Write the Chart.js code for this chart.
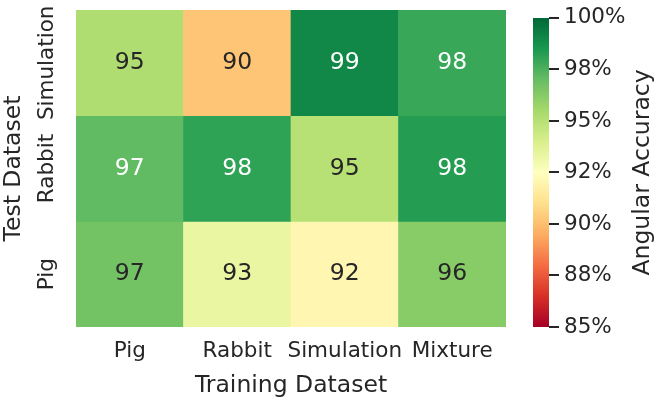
<!DOCTYPE html>
<html>
<head>
<meta charset="utf-8">
<script src="https://cdn.jsdelivr.net/npm/chart.js@4.4.1/dist/chart.umd.min.js"></script>
<style>
  html, body { margin:0; padding:0; background:#fff; }
  #wrap { position:relative; width:661px; height:401px; }
  #wrap canvas { position:absolute; top:0; }
  #heat { left:0; }
  #cbar { left:520px; }
</style>
</head>
<body>
<div id="wrap">
  <canvas id="heat" width="661" height="401"></canvas>
  <canvas id="cbar" width="141" height="401"></canvas>
</div>
<script>
// ---- data ----
const trainSets = ["Pig", "Rabbit", "Simulation", "Mixture"];
const testSets  = ["Simulation", "Rabbit", "Pig"];   // top -> bottom
const accSimulation = [95.2, 90.2, 99.0, 97.9];
const accRabbit     = [97.1, 98.1, 95.0, 98.3];
const accPig        = [96.7, 93.3, 92.1, 96.2];
const cbTicks  = [85, 87.5, 90, 92.5, 95, 97.5, 100];
const cbLabels = ["85%", "88%", "90%", "92%", "95%", "98%", "100%"];
const vMin = 85, vMax = 100;

const rows = [accSimulation, accRabbit, accPig];

const FONT = "'DejaVu Sans', sans-serif";
const TXT = "#262626";
Chart.defaults.font.family = FONT;

// RdYlGn colormap
const RdYlGn = ["#a50026","#d73027","#f46d43","#fdae61","#fee08b","#ffffbf",
                "#d9ef8b","#a6d96a","#66bd63","#1a9850","#006837"];

function hexToRgb(h){ return [1,3,5].map(i => parseInt(h.substr(i,2),16)); }

function cmap(v){
  let t = (v - vMin) / (vMax - vMin);
  t = Math.max(0, Math.min(1, t));
  const s = t * (RdYlGn.length - 1);
  const i = Math.min(Math.floor(s), RdYlGn.length - 2);
  const f = s - i;
  const a = hexToRgb(RdYlGn[i]), b = hexToRgb(RdYlGn[i+1]);
  return a.map((c,k) => Math.round(c + (b[k]-c)*f));
}

// same rule seaborn uses for annotation colour
function lum(rgb){
  const l = rgb.map(c => { c /= 255; return c <= 0.03928 ? c/12.92 : Math.pow((c+0.055)/1.055, 2.4); });
  return 0.2126*l[0] + 0.7152*l[1] + 0.0722*l[2];
}

// ---- plugins ----
const cellText = {
  id: "cellText",
  afterDatasetsDraw(chart){
    const ctx = chart.ctx;
    ctx.save();
    ctx.font = "23.5px " + FONT;
    ctx.textAlign = "center";
    ctx.textBaseline = "alphabetic";
    chart.data.datasets.forEach((ds, i) => {
      chart.getDatasetMeta(i).data.forEach((bar, j) => {
        const v = ds.acc[j];
        ctx.fillStyle = lum(cmap(v)) > 0.408 ? TXT : "#ffffff";
        const p = bar.getCenterPoint();
        ctx.fillText(v.toFixed(0), p.x, p.y + 6.3);
      });
    });
    ctx.restore();
  }
};

// y tick labels, rotated like the original
const rowLabels = {
  id: "rowLabels",
  afterDraw(chart){
    const {ctx, chartArea} = chart;
    const y = chart.scales.y;
    ctx.save();
    ctx.font = "21.5px " + FONT;
    ctx.fillStyle = TXT;
    ctx.textAlign = "center";
    ctx.textBaseline = "middle";
    testSets.forEach((name, i) => {
      ctx.save();
      ctx.translate(chartArea.left - 28.4, y.getPixelForValue(i + 0.5));
      ctx.rotate(-Math.PI/2);
      ctx.fillText(name, 0, 0);
      ctx.restore();
    });
    ctx.restore();
  }
};

const cbTitle = {
  id: "cbTitle",
  afterDraw(chart){
    const {ctx, chartArea} = chart;
    ctx.save();
    ctx.font = "23.5px " + FONT;
    ctx.fillStyle = TXT;
    ctx.textAlign = "center";
    ctx.textBaseline = "middle";
    ctx.translate(chartArea.right + 93.4, (chartArea.top + chartArea.bottom) / 2);
    ctx.rotate(-Math.PI/2);
    ctx.fillText("Angular Accuracy", 0, 0);
    ctx.restore();
  }
};

// ---- heatmap ----
new Chart(document.getElementById("heat"), {
  type: "bar",
  data: {
    labels: trainSets,
    datasets: testSets.map((name, i) => ({
      label: name,
      data: trainSets.map(() => 1),   // one unit per row
      acc: rows[i],
      backgroundColor: rows[i].map(v => "rgb(" + cmap(v).join(",") + ")"),
      borderWidth: 0,
      barPercentage: 1,
      categoryPercentage: 1
    }))
  },
  options: {
    responsive: false,
    animation: false,
    layout: { padding: { left: 0, right: 155, top: 10, bottom: 0 } },
    plugins: { legend: { display: false }, tooltip: { enabled: false } },
    scales: {
      x: {
        stacked: true,
        grid: { display: false, drawTicks: false },
        border: { display: false },
        ticks: { color: TXT, font: { size: 21.5 }, padding: 12, maxRotation: 0, autoSkip: false },
        title: { display: true, text: "Training Dataset", color: TXT,
                 font: { size: 23.5 }, padding: { top: 0, bottom: 1 } },
        afterFit: s => { s.height = 74; }
      },
      y: {
        stacked: true,
        reverse: true,
        min: 0,
        max: 3,
        grid: { display: false, drawTicks: false },
        border: { display: false },
        ticks: { display: false },
        title: { display: true, text: "Test Dataset", color: TXT,
                 font: { size: 23.5 }, padding: { top: 0, bottom: 0 } },
        afterFit: s => { s.width = 76; }
      }
    }
  },
  plugins: [cellText, rowLabels]
});

// ---- colorbar ----
new Chart(document.getElementById("cbar"), {
  type: "bar",
  data: {
    labels: [""],
    datasets: [{
      data: [[vMin, vMax]],
      borderWidth: 0,
      barPercentage: 1,
      categoryPercentage: 1,
      backgroundColor: c => {
        const chart = c.chart;
        const y = chart.scales.y;
        if (!chart.chartArea || !y) return "transparent";
        const g = chart.ctx.createLinearGradient(0, y.getPixelForValue(vMin), 0, y.getPixelForValue(vMax));
        RdYlGn.forEach((col, k) => g.addColorStop(k / (RdYlGn.length - 1), col));
        return g;
      }
    }]
  },
  options: {
    responsive: false,
    animation: false,
    layout: { padding: { left: 13, top: 10, bottom: 74, right: 0 } },
    plugins: { legend: { display: false }, tooltip: { enabled: false } },
    scales: {
      x: { display: false },
      y: {
        position: "right",
        min: vMin,
        max: vMax,
        afterBuildTicks: s => { s.ticks = cbTicks.map(v => ({ value: v })); },
        ticks: { callback: (v, i) => cbLabels[i], color: TXT, font: { size: 21.5 }, padding: 5 },
        grid: { drawOnChartArea: false, drawTicks: true, tickLength: 10, color: TXT, lineWidth: 2 },
        border: { display: false },
        afterFit: s => { s.width = 112; }
      }
    }
  },
  plugins: [cbTitle]
});
</script>
</body>
</html>
